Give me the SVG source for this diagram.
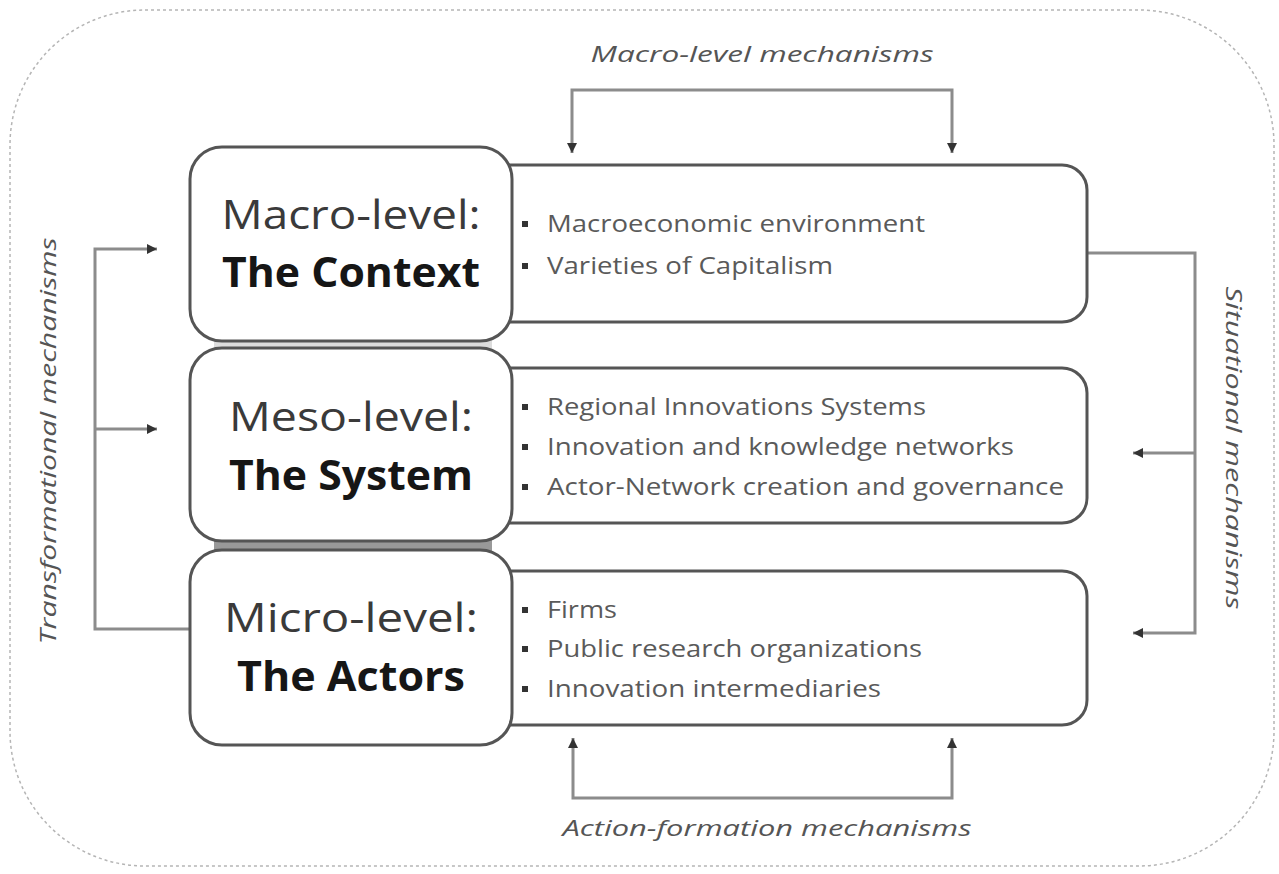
<svg xmlns="http://www.w3.org/2000/svg" width="1279" height="874" viewBox="0 0 1279 874">
  <defs>
    <style>
      .box { fill: #ffffff; stroke: #555555; stroke-width: 3; }
      .conn { fill: none; stroke: #8c8c8c; stroke-width: 3; }
      .title { font-family: "Open Sans", "Liberation Sans", sans-serif; font-size: 41px; fill: #3a3a3a; text-anchor: middle; }
      .titleb { font-family: "Open Sans", "Liberation Sans", sans-serif; font-size: 41px; font-weight: bold; fill: #161616; text-anchor: middle; }
      .item { font-family: "Open Sans", "Liberation Sans", sans-serif; font-size: 23px; fill: #5a5a5a; }
      .bullet { fill: #333333; }
      .lab { font-family: "Open Sans", "Liberation Sans", sans-serif; font-size: 22px; font-style: italic; fill: #555555; text-anchor: middle; }
    </style>
    <marker id="ah" viewBox="0 0 10 10" refX="10" refY="5" markerWidth="10" markerHeight="10" markerUnits="userSpaceOnUse" orient="auto-start-reverse">
      <path d="M0,0 L10,5 L0,10 Z" fill="#333333"/>
    </marker>
  </defs>

  <rect x="10" y="10" width="1264" height="856" rx="135" ry="135" fill="none" stroke="#b5b5b5" stroke-width="1.5" stroke-dasharray="3,3"/>

  <g id="connectors">
    <path class="conn" d="M572,153 V90 H952 V153" marker-start="url(#ah)" marker-end="url(#ah)"/>
    <path class="conn" d="M573,738 V798 H952 V738" marker-start="url(#ah)" marker-end="url(#ah)"/>
    <path class="conn" d="M190,629 H95 V249 H157" marker-end="url(#ah)"/>
    <path class="conn" d="M95,429 H157" marker-end="url(#ah)"/>
    <path class="conn" d="M1087,253 H1195 V633 H1133" marker-end="url(#ah)"/>
    <path class="conn" d="M1195,453 H1133" marker-end="url(#ah)"/>
  </g>

  <g id="labels">
    <text class="lab" x="762" y="62" textLength="343" lengthAdjust="spacingAndGlyphs">Macro-level mechanisms</text>
    <text class="lab" x="767" y="836" textLength="409" lengthAdjust="spacingAndGlyphs">Action-formation mechanisms</text>
    <text class="lab" transform="translate(56,441) rotate(-90)" x="0" y="0" textLength="407" lengthAdjust="spacingAndGlyphs">Transformational mechanisms</text>
    <text class="lab" transform="translate(1226,448) rotate(90)" x="0" y="0" textLength="323" lengthAdjust="spacingAndGlyphs">Situational mechanisms</text>
  </g>

  <rect x="214" y="539" width="278" height="12" fill="#999999"/>
  <rect x="214" y="340" width="278" height="9" fill="#dddddd"/>

  <g id="macro">
    <path class="box" d="M480,165 H1062 A25,25 0 0 1 1087,190 V297 A25,25 0 0 1 1062,322 H480 Z"/>
    <rect class="box" x="190" y="147" width="322" height="194" rx="32" ry="32"/>
    <text class="title" x="351" y="229" textLength="259" lengthAdjust="spacingAndGlyphs">Macro-level:</text>
    <text class="titleb" x="351" y="287" textLength="258" lengthAdjust="spacingAndGlyphs">The Context</text>
    <rect class="bullet" x="522" y="221" width="6" height="6"/>
    <text class="item" x="547" y="232" textLength="378" lengthAdjust="spacingAndGlyphs">Macroeconomic environment</text>
    <rect class="bullet" x="522" y="263" width="6" height="6"/>
    <text class="item" x="547" y="274" textLength="286" lengthAdjust="spacingAndGlyphs">Varieties of Capitalism</text>
  </g>

  <g id="meso">
    <path class="box" d="M480,368 H1062 A25,25 0 0 1 1087,393 V498 A25,25 0 0 1 1062,523 H480 Z"/>
    <rect class="box" x="190" y="348" width="322" height="193" rx="32" ry="32"/>
    <text class="title" x="351" y="431" textLength="244" lengthAdjust="spacingAndGlyphs">Meso-level:</text>
    <text class="titleb" x="351" y="490" textLength="244" lengthAdjust="spacingAndGlyphs">The System</text>
    <rect class="bullet" x="522" y="404" width="6" height="6"/>
    <text class="item" x="547" y="415" textLength="379" lengthAdjust="spacingAndGlyphs">Regional Innovations Systems</text>
    <rect class="bullet" x="522" y="444" width="6" height="6"/>
    <text class="item" x="547" y="455" textLength="467" lengthAdjust="spacingAndGlyphs">Innovation and knowledge networks</text>
    <rect class="bullet" x="522" y="484" width="6" height="6"/>
    <text class="item" x="547" y="495" textLength="517" lengthAdjust="spacingAndGlyphs">Actor-Network creation and governance</text>
  </g>

  <g id="micro">
    <path class="box" d="M480,571 H1062 A25,25 0 0 1 1087,596 V700 A25,25 0 0 1 1062,725 H480 Z"/>
    <rect class="box" x="190" y="550" width="322" height="195" rx="32" ry="32"/>
    <text class="title" x="351" y="632" textLength="254" lengthAdjust="spacingAndGlyphs">Micro-level:</text>
    <text class="titleb" x="351" y="691" textLength="228" lengthAdjust="spacingAndGlyphs">The Actors</text>
    <rect class="bullet" x="522" y="607" width="6" height="6"/>
    <text class="item" x="547" y="618" textLength="70" lengthAdjust="spacingAndGlyphs">Firms</text>
    <rect class="bullet" x="522" y="646" width="6" height="6"/>
    <text class="item" x="547" y="657" textLength="375" lengthAdjust="spacingAndGlyphs">Public research organizations</text>
    <rect class="bullet" x="522" y="686" width="6" height="6"/>
    <text class="item" x="547" y="697" textLength="334" lengthAdjust="spacingAndGlyphs">Innovation intermediaries</text>
  </g>
</svg>
